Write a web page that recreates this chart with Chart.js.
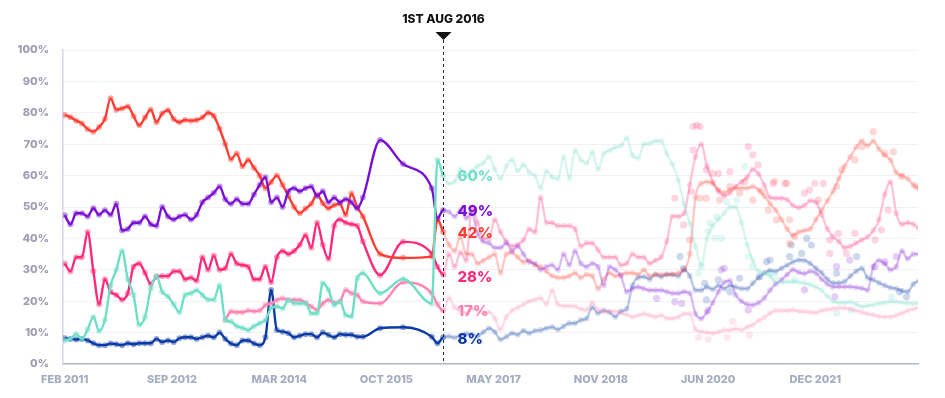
<!DOCTYPE html>
<html>
<head>
<meta charset="utf-8">
<script src="https://cdn.jsdelivr.net/npm/chart.js@4.4.1/dist/chart.umd.min.js"></script>
<style>
  html, body { margin: 0; padding: 0; background: #ffffff; }
  #wrap { width: 945px; height: 398px; }
</style>
</head>
<body>
<div id="wrap"><canvas id="c" width="945" height="398"></canvas></div>
<script>
// ---- DATA ----
// x values: months since Jan 2011 (1 = Feb 2011); 67 = 1 Aug 2016
const months = [];
for (let m = 1; m <= 53; m++) months.push(m);
months.push(56, 60, 65, 66);
for (let m = 67; m <= 150; m++) months.push(m);

const seriesNames = ['Turquoise', 'Purple', 'Red', 'Pink', 'Light pink', 'Blue'];

const turquoiseValues = [
  7.5, 8, 9.5, 8, 11, 15, 10.5, 14, 25, 30, 36, 27, 22, 12.5, 15, 24, 28, 23, 21.5, 19,
  16.5, 22, 22.5, 23.5, 22, 20.5, 20.5, 25, 14, 13.5, 12, 11.5, 10.8, 12, 13,
  14, 17.8, 18.3, 17.7, 20.4, 19.3, 19.3, 19.3, 16.1, 16.1, 25.7, 23.6, 18.8, 19.9, 15.6, 15.1, 27.3, 28.9,
  22.5, 27.1, 19.3, 65,
  60, 57.5, 58, 62, 60, 61.5, 63, 64, 66, 62, 59, 63, 65, 61.5, 63.5, 61, 60, 56, 61.5, 59.5,
  59, 66, 59, 68, 65, 64, 67.5, 62, 67, 68, 69, 69.5, 72, 66.5,
  65.5, 70, 70.3, 71, 71, 67, 63.5, 58.5, 51, 44.8, 37.5, 31.5, 40, 44, 46, 48, 50, 50, 45, 38,
  33, 29.5, 29, 28, 26,
  26, 26.2, 26.2, 26, 25.7, 25.3, 24.5, 23.5, 21.5, 20, 19.5, 19.5, 19.8, 19, 18.3, 18.6, 18.8, 19.3, 19.5, 19.8,
  19.8, 19.6, 19.3, 19.3, 19.3
];

const purpleValues = [
  47.4, 44.5, 48, 48, 47, 49.6, 47.5, 49, 47.5, 51, 42.5, 43, 45, 45, 47, 44.5, 44, 50, 47, 46,
  47, 47.5, 46, 47.5, 51.5, 53, 54.5, 56.5, 52.5, 51, 52.5, 51, 51, 54, 57,
  59.5, 51.5, 53, 50, 55, 56, 55, 56, 56.5, 53.5, 55, 51.5, 53, 51.5, 52.5, 51.5, 49.5, 53,
  71.3, 63.7, 56, 46.4,
  49, 48.5, 47, 49, 46.5, 48, 41.5, 39, 38.5, 37, 37, 38.5, 36, 37.5, 35, 32.5, 32, 30, 31, 31.5,
  30, 35, 31.5, 36, 32, 31, 32, 31, 25, 31, 30, 28, 23, 24,
  24.5, 24, 23.5, 23.5, 23.5, 23, 22.5, 22.5, 23, 22.5, 16, 14.5, 16.5, 19.5, 23, 26, 26.5, 22, 20, 19,
  18.8, 19.5, 21, 23.5, 25.5,
  26.8, 28.5, 30, 29.2, 28.8, 29.5, 29, 27, 25.5, 24.5, 24.6, 24.6, 24.6, 24.4, 24.1, 23.5, 31, 33, 32, 30,
  31, 36, 33.5, 35, 35
];

const redValues = [
  79.3, 78.6, 77.5, 76.6, 74.8, 74, 75.5, 78, 84.6, 81, 81.4, 82, 79, 76, 78.5, 81, 77, 79.8, 80.8, 78,
  77, 77.7, 77.5, 77.7, 78.5, 80, 79, 75, 70, 65.2, 67, 63, 65, 62.5, 60,
  56, 58, 60, 57, 53.5, 50, 48, 49.5, 51, 54, 51.2, 49.6, 50.6, 51, 47.5, 54.3, 50, 47,
  35, 33.8, 34.2, 46,
  42, 38, 36, 40.5, 35, 35, 32, 33, 34, 35, 29, 35, 35.5, 34, 32.5, 33, 31.5, 31, 29.5, 28,
  27.5, 27.5, 28, 29, 27.5, 28.5, 28, 24, 27, 29, 28, 28.5, 29, 29,
  28.5, 30, 28, 28.5, 28.5, 28.5, 28.5, 29, 30, 35, 53, 57.5, 58, 57.5, 55.5, 54.5, 55.5, 56, 56, 56,
  56.5, 55.5, 53.5, 51, 49,
  46, 43, 41, 42, 42.5, 43, 46, 49, 52, 55, 59, 63, 66, 69, 71, 69.5, 71, 68.5, 66.5, 65,
  61, 60, 59, 57, 56
];

const pinkValues = [
  32, 29.5, 34, 34, 42, 29.5, 19, 27, 23, 22, 20.5, 22.5, 31, 32, 29, 25.5, 27.8, 28, 28, 29.5,
  29.5, 27, 27.5, 26.5, 34, 30, 34.5, 30, 30.5, 35, 32, 31.5, 31, 27, 27,
  31, 26, 34, 36, 35, 36, 38, 41, 37, 45, 38, 33.5, 44, 46, 45, 44.5, 44, 39,
  28.3, 38.9, 35.2, 31,
  28.5, 35, 31, 35.5, 33, 50, 45, 40, 40, 46, 42, 39, 37.5, 38, 39.5, 43, 42, 53, 45, 45,
  44, 44, 44, 43, 37.5, 38.5, 38.5, 36.3, 34, 34, 34, 31.5, 32, 35,
  34, 34, 32, 33, 34, 39, 47, 47, 48, 57, 66, 70, 63, 58, 55, 53.5, 54.5, 56.5, 58, 59.5,
  62, 60.5, 57, 53, 52.8,
  52.8, 52.3, 50.5, 49.8, 50.5, 52, 51.5, 47.5, 43, 40.5, 39, 37, 37.5, 38.5, 39.5, 40.5, 42.5, 46, 54, 58,
  48, 44.5, 45, 44.5, 43
];

const lightPinkValues = [
  null, null, null, null, null, null, null, null, null, null, null, null, null, null, null, null, null, null, null, null,
  null, null, null, null, null, null, null, null, 14, 16.7, 16.5, 16.5, 17, 16.8, 17,
  18.8, 19.3, 20.4, 20.9, 20.4, 20.4, 20.4, 19.5, 18.3, 17.2, 19.3, 20.4, 19.5, 19.9, 23.6, 22.5, 22, 19.9,
  19.3, 26, 22.5, 19,
  17, 21, 18, 17, 16.3, 17.5, 17, 16.3, 16.5, 14.5, 11, 15, 17, 18, 19, 20, 20.5, 21, 19, 23.5,
  19, 18.5, 18.5, 18.3, 17.5, 17.2, 19.5, 17.3, 16.8, 16.7, 16.7, 16.2, 15.7, 15,
  15.5, 16, 15.5, 15, 15.5, 14.5, 14.5, 15, 16, 16, 11, 10.3, 10, 9.8, 10.2, 10.8, 10.8, 11.2, 10.8, 11.8,
  12.5, 13.8, 14.8, 16.2, 17,
  17, 17, 17.2, 16.8, 16.7, 16.5, 16.3, 17, 17.3, 17.6, 17.8, 17.8, 17.5, 17, 16.5, 16, 15.6, 15.1, 15, 15,
  15.5, 16.2, 17, 17.5, 18
];

const blueValues = [
  8.2, 8, 7.8, 8, 7.5, 6.6, 6, 6, 6.5, 6.3, 6, 6.6, 6.3, 6.6, 6.6, 6.6, 8, 7, 7.5, 7,
  8.2, 8.5, 8.5, 8, 8.5, 9, 8.5, 10, 8, 6.5, 6, 7.5, 7.5, 6.5, 6,
  8.5, 23.6, 10.8, 10.3, 9.8, 8.5, 9, 9.5, 9.5, 8.5, 10, 9.2, 8.5, 9.5, 9.3, 9.3, 8.7, 8.7,
  11.4, 11.7, 8.7, 6.6,
  8.5, 8.8, 8.4, 9, 9.6, 9.4, 8.8, 10.2, 11.4, 10.2, 7.8, 8.7, 9.8, 9.3, 10.6, 9.8, 10.6, 10.8, 11.4, 11.8,
  11, 12, 13, 13, 14, 14.5, 18, 16.2, 17, 16.5, 15, 16.8, 17.5, 25,
  27.5, 27.8, 27, 28.5, 27.8, 28.5, 28.5, 28, 30, 28, 23.5, 23.5, 24.5, 23.8, 25, 24, 25, 24.5, 24, 24,
  25.7, 27.5, 29, 29.8, 29.5,
  30.5, 31.5, 32.5, 33.1, 33, 32, 30.5, 29, 27, 25.8, 25.8, 26.3, 28, 29.5, 30.5, 27.5, 26.8, 25.8, 25, 24.3,
  24, 23.3, 23, 25.5, 26.5
];

// individual poll dots that sit away from the smoothed lines (month, value)
const turquoiseDots = [[111.5, 28.9], [112, 31], [113.2, 42.2], [113.5, 44.8], [114.4, 40], [114.7, 46.9], [115.5, 40],
  [116.4, 51.7], [118.2, 52.2], [119.6, 62.9], [120.2, 34.2], [121, 31], [124, 28.9], [124.8, 27.8], [128.3, 26.8],
  [135.6, 16.1], [138.2, 17.2], [145.2, 21.4]];
const purpleDots = [[104.2, 20.9], [107.4, 19.9], [108.6, 19.3], [113.2, 17.2], [115.5, 30], [116, 30.5], [120.2, 17.2],
  [130, 23.6], [135.3, 21.4], [135.6, 31], [137.9, 33.1], [142.3, 31], [144, 32.6], [146, 34.2]];
const redDots = [[110, 39.5], [111.8, 52.8], [112.9, 52.8], [114, 60.7], [115.2, 52.2], [117, 56.5], [118.7, 54.4],
  [119.6, 58.1], [121, 52.2], [122.5, 54.9], [123.7, 49], [124.8, 58.1], [125.1, 45.9], [126.9, 57.5], [127.4, 45.9],
  [127.4, 38.4], [128.3, 40.6], [132.4, 52.2], [135.6, 56.5], [136.5, 61.8], [138.8, 65], [140, 69.2], [142, 74],
  [144, 67.1], [145.5, 67.6], [146.9, 59.7], [149.5, 56.5]];
const pinkDots = [[107.4, 52.8], [108.9, 44.3], [110.3, 54.9], [110.6, 68.2], [110.6, 75.6], [111.2, 76], [111.8, 75.6],
  [112.9, 61.8], [115, 60.7], [117, 61.3], [120.2, 69.2], [121, 66.6], [121.9, 63.4], [124.5, 57.5], [126.6, 57.5],
  [130, 54.4], [130.9, 55.4], [131.8, 57.5], [133.3, 57.5], [134.4, 39.5], [134.4, 35.2], [135.9, 41.6], [137.3, 35.2],
  [138.8, 41.6], [142.3, 39.5], [143.4, 42.7], [144.6, 49]];
const lightPinkDots = [[111.5, 8.5], [113.2, 7.8], [116.5, 8.5], [117.5, 13.5], [120.4, 9.2]];
const blueDots = [[108.3, 34.2], [108.9, 30.5], [112.6, 25.7], [112.9, 20.4], [115, 26.8], [117, 23], [118.7, 27.3],
  [122.2, 27.8], [123.4, 32.6], [124, 33.1], [127.4, 34.2], [127.7, 37.9], [129.5, 35.2], [130.4, 40], [131.2, 37.9],
  [135.6, 28.9], [139.1, 34.2], [146.6, 23], [147.8, 21.4]];

// value labels shown at the 1st Aug 2016 marker, same order as seriesNames
const markerLabelValues = [60, 49, 42, 28, 17, 8];
const markerMonth = 67;
const markerText = '1ST AUG 2016';

const xTickLabels = ['FEB 2011', 'SEP 2012', 'MAR 2014', 'OCT 2015', 'MAY 2017', 'NOV 2018', 'JUN 2020', 'DEC 2021'];
const xTickFirst = 1;
const xTickStep = 18.7;
const xMin = 0.7, xMax = 149.8;

// ---- STYLE ----
const colors = [
  [111, 222, 198],  // turquoise
  [123, 15, 212],   // purple
  [255, 61, 51],    // red
  [255, 42, 122],   // pink
  [255, 134, 180],  // light pink
  [11, 58, 166]     // blue
];
const labelColors = ['#74dfc9', '#7b0fd4', '#ff3d33', '#ff2a7a', '#ff80b2', '#0b3aa6'];
const rgba = (c, a) => `rgba(${c[0]},${c[1]},${c[2]},${a})`;

const allValues = [turquoiseValues, purpleValues, redValues, pinkValues, lightPinkValues, blueValues];
const allDots = [turquoiseDots, purpleDots, redDots, pinkDots, lightPinkDots, blueDots];
const FONT = "'Inter', 'Noto Sans', sans-serif";

const lineSets = allValues.map((vals, si) => {
  const c = colors[si];
  const data = months.map((m, i) => ({ x: m, y: vals[i] })).filter(p => p.y !== null && p.y !== undefined);
  return {
    type: 'line',
    label: seriesNames[si],
    order: 0,
    data,
    borderColor: rgba(c, 1),
    borderWidth: 2.4,
    cubicInterpolationMode: 'monotone',
    spanGaps: true,
    pointRadius: 3,
    pointBorderWidth: 0,
    pointHoverRadius: 3,
    pointBackgroundColor: (ctx) => {
      const x = ctx.parsed ? ctx.parsed.x : 0;
      return x > markerMonth ? rgba(c, 0.17) : rgba(c, 0.45);
    },
    segment: {
      borderColor: (ctx) => ctx.p0.parsed.x >= markerMonth ? rgba(c, 0.28) : undefined
    }
  };
});

const dotSets = allDots.map((dots, si) => ({
  type: 'scatter',
  label: seriesNames[si] + ' polls',
  order: 1,
  data: dots.map(([x, y]) => ({ x, y })),
  showLine: false,
  pointRadius: 3.6,
  pointBorderWidth: 0,
  pointHoverRadius: 3.6,
  pointBackgroundColor: rgba(colors[si], 0.2)
}));

const markerPlugin = {
  id: 'marker',
  afterDatasetsDraw(chart) {
    const { ctx, chartArea, scales: { x, y } } = chart;
    const px = Math.round(x.getPixelForValue(markerMonth)) + 0.5;
    ctx.save();
    ctx.strokeStyle = '#2b2b38';
    ctx.lineWidth = 1;
    ctx.setLineDash([3, 3]);
    ctx.beginPath();
    ctx.moveTo(px, chartArea.top - 10);
    ctx.lineTo(px, chartArea.bottom);
    ctx.stroke();
    ctx.setLineDash([]);
    ctx.fillStyle = '#111111';
    ctx.beginPath();
    ctx.moveTo(px - 8, chartArea.top - 18);
    ctx.lineTo(px + 8, chartArea.top - 18);
    ctx.lineTo(px, chartArea.top - 10);
    ctx.closePath();
    ctx.fill();
    ctx.font = `800 12px ${FONT}`;
    ctx.textAlign = 'center';
    ctx.textBaseline = 'middle';
    ctx.fillStyle = '#111111';
    ctx.fillText(markerText, px, chartArea.top - 31);
    ctx.font = `800 15px ${FONT}`;
    ctx.textAlign = 'left';
    markerLabelValues.forEach((v, i) => {
      ctx.fillStyle = labelColors[i];
      ctx.fillText(v + '%', px + 14, y.getPixelForValue(v) + 1);
    });
    ctx.restore();
  }
};

new Chart(document.getElementById('c'), {
  type: 'line',
  data: { datasets: [...lineSets, ...dotSets] },
  plugins: [markerPlugin],
  options: {
    responsive: false,
    animation: false,
    devicePixelRatio: 1,
    layout: { padding: { left: 0, right: 27, top: 50, bottom: 0 } },
    plugins: { legend: { display: false }, tooltip: { enabled: false } },
    scales: {
      x: {
        type: 'linear',
        min: xMin,
        max: xMax,
        afterFit: (s) => { s.height = 34; },
        afterBuildTicks: (s) => {
          s.ticks = xTickLabels.map((_, i) => ({ value: xTickFirst + i * xTickStep }));
        },
        grid: { display: false, drawTicks: false },
        border: { display: true, color: '#b3bbcd', width: 1.5 },
        ticks: {
          autoSkip: false,
          maxRotation: 0,
          padding: 9,
          color: '#a4acc1',
          font: { family: FONT, size: 11, weight: '800' },
          callback: (v, i) => xTickLabels[i]
        }
      },
      y: {
        min: 0,
        max: 100,
        afterFit: (s) => { s.width = 63; },
        grid: { color: '#f1f1f7', lineWidth: 1, drawTicks: false },
        border: { display: true, color: '#d6d4e6', width: 1.5 },
        ticks: {
          stepSize: 10,
          padding: 14,
          color: '#9e9bb3',
          font: { family: FONT, size: 11, weight: '800' },
          callback: (v) => v + '%'
        }
      }
    }
  }
});
</script>
</body>
</html>
